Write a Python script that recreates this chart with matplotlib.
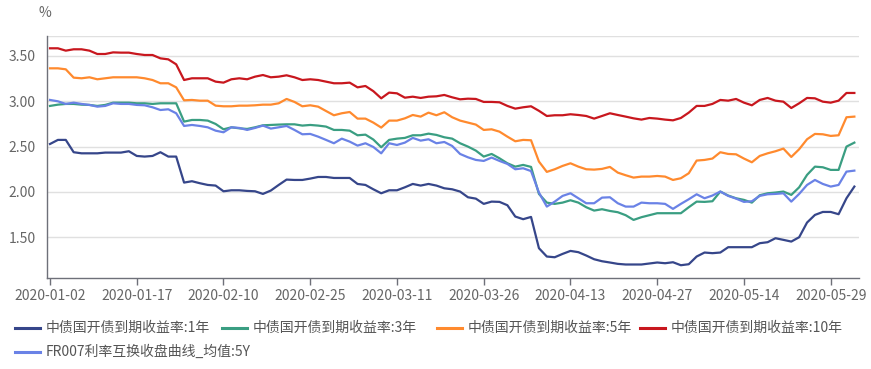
import matplotlib
matplotlib.use("Agg")
import matplotlib.pyplot as plt
from matplotlib.lines import Line2D

plt.rcParams['font.family'] = ['Noto Sans CJK SC', 'DejaVu Sans']

tick_labels = ["2020-01-02", "2020-01-17", "2020-02-10", "2020-02-25", "2020-03-11",
               "2020-03-26", "2020-04-13", "2020-04-27", "2020-05-14", "2020-05-29"]
tick_step = 11

series_names = ["中债国开债到期收益率:1年", "中债国开债到期收益率:3年",
                "中债国开债到期收益率:5年", "中债国开债到期收益率:10年",
                "FR007利率互换收盘曲线_均值:5Y"]

cdb_1y = [2.529, 2.574, 2.574, 2.438, 2.426, 2.426, 2.426, 2.434, 2.434, 2.434, 2.449, 2.397, 2.390, 2.397, 2.438, 2.390, 2.390, 2.103, 2.118, 2.096, 2.077,
          2.070, 2.007, 2.018, 2.018, 2.011, 2.007, 1.978, 2.015, 2.077, 2.136, 2.132, 2.132, 2.147, 2.165, 2.165, 2.154, 2.154, 2.154, 2.088, 2.077, 2.029,
          1.985, 2.018, 2.018, 2.051, 2.088, 2.070, 2.088, 2.070, 2.040, 2.029, 2.004, 1.941, 1.926, 1.868, 1.893, 1.890, 1.853, 1.728, 1.699, 1.724,
          1.379, 1.287, 1.279, 1.316, 1.349, 1.335, 1.298, 1.257, 1.235, 1.221, 1.206, 1.199, 1.199, 1.199, 1.210, 1.221, 1.213, 1.224, 1.191, 1.202,
          1.287, 1.331, 1.324, 1.331, 1.390, 1.390, 1.390, 1.390, 1.434, 1.445, 1.489, 1.471, 1.452, 1.500, 1.662, 1.746, 1.779, 1.779, 1.754, 1.930, 2.059]

cdb_3y = [2.949, 2.963, 2.971, 2.971, 2.963, 2.960, 2.949, 2.960, 2.985, 2.985, 2.985, 2.978, 2.978, 2.971, 2.978, 2.978, 2.978, 2.776, 2.794, 2.794, 2.787,
          2.750, 2.691, 2.713, 2.702, 2.695, 2.713, 2.735, 2.739, 2.743, 2.746, 2.746, 2.732, 2.739, 2.732, 2.721, 2.684, 2.684, 2.676, 2.625, 2.632, 2.578,
          2.493, 2.574, 2.588, 2.596, 2.625, 2.625, 2.643, 2.629, 2.603, 2.588, 2.537, 2.500, 2.456, 2.390, 2.419, 2.371, 2.316, 2.279, 2.298, 2.276,
          1.978, 1.882, 1.868, 1.882, 1.908, 1.882, 1.831, 1.794, 1.809, 1.790, 1.776, 1.743, 1.691, 1.721, 1.743, 1.765, 1.765, 1.765, 1.765, 1.831,
          1.893, 1.890, 1.897, 2.004, 1.960, 1.930, 1.912, 1.882, 1.963, 1.985, 1.993, 2.004, 1.967, 2.051, 2.188, 2.279, 2.272, 2.243, 2.243, 2.500, 2.544]

cdb_5y = [3.364, 3.364, 3.353, 3.261, 3.254, 3.265, 3.243, 3.254, 3.265, 3.265, 3.265, 3.265, 3.254, 3.235, 3.199, 3.199, 3.154, 3.011, 3.015, 3.007, 3.007,
          2.952, 2.945, 2.945, 2.952, 2.952, 2.956, 2.963, 2.963, 2.978, 3.026, 2.993, 2.945, 2.956, 2.941, 2.893, 2.846, 2.868, 2.882, 2.809, 2.809, 2.765,
          2.710, 2.787, 2.787, 2.812, 2.849, 2.831, 2.875, 2.846, 2.879, 2.824, 2.787, 2.765, 2.743, 2.684, 2.691, 2.665, 2.610, 2.559, 2.574, 2.570,
          2.335, 2.221, 2.250, 2.287, 2.316, 2.279, 2.250, 2.246, 2.254, 2.276, 2.213, 2.184, 2.158, 2.169, 2.169, 2.176, 2.169, 2.132, 2.151, 2.206,
          2.346, 2.353, 2.368, 2.438, 2.419, 2.415, 2.368, 2.327, 2.397, 2.426, 2.449, 2.478, 2.386, 2.471, 2.581, 2.640, 2.636, 2.618, 2.625, 2.824, 2.831]

cdb_10y = [3.585, 3.585, 3.559, 3.574, 3.574, 3.559, 3.522, 3.522, 3.540, 3.537, 3.537, 3.522, 3.511, 3.511, 3.474, 3.463, 3.408, 3.235, 3.254, 3.254, 3.254,
           3.217, 3.206, 3.243, 3.254, 3.243, 3.272, 3.290, 3.265, 3.272, 3.287, 3.265, 3.235, 3.243, 3.235, 3.217, 3.199, 3.199, 3.206, 3.154, 3.169, 3.112,
           3.033, 3.096, 3.088, 3.040, 3.051, 3.037, 3.051, 3.055, 3.070, 3.044, 3.022, 3.029, 3.026, 2.993, 2.993, 2.989, 2.949, 2.919, 2.934, 2.945,
           2.895, 2.838, 2.846, 2.846, 2.857, 2.849, 2.838, 2.809, 2.838, 2.868, 2.849, 2.831, 2.812, 2.798, 2.816, 2.809, 2.798, 2.790, 2.816, 2.875,
           2.949, 2.949, 2.971, 3.015, 3.007, 3.026, 2.985, 2.956, 3.015, 3.037, 3.007, 2.996, 2.926, 2.978, 3.037, 3.033, 2.996, 2.985, 3.007, 3.092, 3.092]

fr007_5y = [3.015, 3.000, 2.971, 2.985, 2.971, 2.960, 2.941, 2.949, 2.978, 2.971, 2.971, 2.960, 2.956, 2.934, 2.904, 2.912, 2.868, 2.728, 2.739, 2.728, 2.713,
            2.676, 2.658, 2.713, 2.706, 2.684, 2.706, 2.732, 2.699, 2.713, 2.728, 2.684, 2.636, 2.640, 2.610, 2.574, 2.537, 2.588, 2.555, 2.511, 2.537, 2.496,
            2.426, 2.537, 2.518, 2.544, 2.596, 2.566, 2.581, 2.537, 2.551, 2.507, 2.419, 2.382, 2.353, 2.342, 2.379, 2.342, 2.309, 2.250, 2.261, 2.230,
            1.993, 1.838, 1.893, 1.956, 1.985, 1.930, 1.875, 1.875, 1.937, 1.941, 1.875, 1.838, 1.838, 1.882, 1.875, 1.875, 1.868, 1.813, 1.868, 1.919,
            1.974, 1.930, 1.960, 2.004, 1.956, 1.926, 1.890, 1.897, 1.956, 1.974, 1.978, 1.985, 1.893, 1.978, 2.077, 2.132, 2.088, 2.059, 2.077, 2.224, 2.235]

colors = ["#36468a", "#3a9e82", "#ff8a2e", "#c8171e", "#6a82e6"]
all_series = [cdb_1y, cdb_3y, cdb_5y, cdb_10y, fr007_5y]

W, H = 871, 369
fig = plt.figure(figsize=(W / 100, H / 100), dpi=100)
left, right, top, bottom = 46.7, 858.7, 35.7, 278.0
ax = fig.add_axes([left / W, 1 - bottom / H, (right - left) / W, (bottom - top) / H])

x = list(range(len(cdb_1y)))
for s, c in zip(all_series, colors):
    ax.plot(x, s, color=c, lw=1.6, solid_joinstyle='round', zorder=3)

ymin, ymax = 1.05, 3.724
ax.set_ylim(ymin, ymax)
ax.set_xlim(-0.42, 102.55)

yt = [1.5, 2.0, 2.5, 3.0, 3.5]
ax.set_yticks(yt)
ax.set_yticklabels([f"{v:.2f}" for v in yt])
for v in yt + [ymax]:
    ax.axhline(v, color="#e0e0e0", lw=1.0, zorder=1)

xt = [i * tick_step for i in range(len(tick_labels))]
ax.set_xticks(xt)
ax.set_xticklabels(tick_labels)

for sp in ["top", "right"]:
    ax.spines[sp].set_visible(False)
for sp in ["left", "bottom"]:
    ax.spines[sp].set_color("#6e7079")
    ax.spines[sp].set_linewidth(1.0)

ax.tick_params(axis="y", length=0, pad=8, labelsize=10, labelcolor="#666666")
ax.tick_params(axis="x", length=5, width=1, color="#6e7079", pad=3, labelsize=10, labelcolor="#666666")

fig.text(45 / W, 1 - 13 / H, "%", ha="center", va="center", fontsize=10, color="#666666")

# legend
leg_items = [(15, 328), (222, 328), (437, 328), (640, 328), (15, 352)]
for (lx, ly), name, c in zip(leg_items, series_names, colors):
    fig.add_artist(Line2D([lx / W, (lx + 25) / W], [1 - ly / H, 1 - ly / H], color=c, lw=2.2,
                          transform=fig.transFigure))
    fig.text((lx + 31) / W, 1 - ly / H, name, ha="left", va="center", fontsize=10, color="#555555")

fig.savefig("out.png", dpi=100)
